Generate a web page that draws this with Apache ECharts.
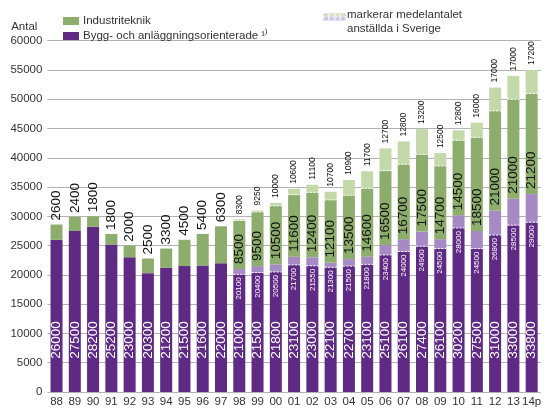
<!DOCTYPE html>
<html><head><meta charset="utf-8">
<script src="https://cdn.jsdelivr.net/npm/echarts@6/dist/echarts.min.js"></script>
<style>html,body{margin:0;padding:0;background:#fff}#c{width:545px;height:408px}</style>
</head><body><div id="c"></div>
<script>
const years = ['88','89','90','91','92','93','94','95','96','97','98','99','00','01','02','03','04','05','06','07','08','09','10','11','12','13','14p'];
const bygg = [26000,27500,28200,25200,23000,20300,21200,21500,21600,22000,21000,21500,21800,23100,23000,22100,22700,23100,25100,26100,27400,26100,30200,27500,31000,33000,33800];
const industri = [2600,2400,1800,1800,2000,2500,3300,4500,5400,6300,8500,9500,10500,11600,12400,12100,13500,14600,16500,16700,17500,14700,14500,18500,21000,21000,21200];
const byggSverige = [null,null,null,null,null,null,null,null,null,null,20100,20400,20500,21700,21550,21300,21500,21800,23400,24000,24900,24500,28000,24500,26800,28500,29000];
const industriSverige = [null,null,null,null,null,null,null,null,null,null,8300,9250,10000,10600,11100,10700,10900,11700,12700,12800,13200,12500,12800,16000,17000,17000,17200];

const NAME_IND = 'Industriteknik';
const NAME_BYGG = 'Bygg- och anläggningsorienterade \u00b9\u207e';
const FONT = '"Liberation Sans", Arial, Helvetica, sans-serif';
const C_PURPLE = '#5e2a84', C_PURPLE_L = '#a68ac4', C_GREEN = '#8cad6b', C_GREEN_L = '#c4d9aa';
const BW = 12;
const hasSw = i => byggSverige[i] != null;

const darkPurple = years.map((y, i) => hasSw(i) ? byggSverige[i] : bygg[i]);
const lightPurple = years.map((y, i) => ({
  value: hasSw(i) ? bygg[i] - byggSverige[i] : 0,
  label: { show: hasSw(i) }
}));
const darkGreen = years.map((y, i) => ({
  value: hasSw(i) ? industriSverige[i] : industri[i],
  label: hasSw(i) ? { position: 'insideBottom', distance: 5 } : { position: 'top', distance: 4 }
}));
const lightGreen = years.map((y, i) => ({
  value: hasSw(i) ? industri[i] - industriSverige[i] : 0,
  label: { show: hasSw(i) }
}));
const dashData = [];
years.forEach((y, i) => { if (hasSw(i)) dashData.push([i, byggSverige[i], bygg[i] + industriSverige[i]]); });

const chart = echarts.init(document.getElementById('c'), null, { renderer: 'canvas' });
chart.setOption({
  animation: false,
  backgroundColor: '#fff',
  textStyle: { fontFamily: FONT },
  grid: { left: 47.4, right: 4.2, top: 40.7, bottom: 14.7, containLabel: false },
  legend: {
    data: [NAME_IND, NAME_BYGG],
    orient: 'vertical',
    left: 58, top: 9,
    itemWidth: 16, itemHeight: 8, itemGap: 1,
    icon: 'rect',
    textStyle: { fontFamily: FONT, fontSize: 11.5, color: '#333', lineHeight: 14, padding: [0, 0, 0, -1] },
    selectedMode: false
  },
  graphic: [
    { type: 'group', left: 321, top: 11, children: [
      { type: 'rect', shape: { x: 0, y: 0, width: 22, height: 7 }, style: { fill: '#cfc5e4' } },
      { type: 'rect', shape: { x: 0, y: 0, width: 22, height: 3 }, style: { fill: '#d6e2c6' } },
      { type: 'line', shape: { x1: 0, y1: 3.5, x2: 22, y2: 3.5 }, style: { stroke: '#fff', lineWidth: 1, lineDash: [2, 2] } },
      { type: 'line', shape: { x1: 5.5, y1: 0, x2: 5.5, y2: 7 }, style: { stroke: '#fff', lineWidth: 1 } },
      { type: 'line', shape: { x1: 11.5, y1: 0, x2: 11.5, y2: 7 }, style: { stroke: '#fff', lineWidth: 1 } },
      { type: 'line', shape: { x1: 16.5, y1: 0, x2: 16.5, y2: 7 }, style: { stroke: '#fff', lineWidth: 1 } }
    ]},
    { type: 'text', left: 347, top: 8, style: { text: 'markerar medelantalet\nanställda i Sverige', font: '11.5px ' + FONT, fill: '#333', lineHeight: 14 } }
  ],
  xAxis: {
    type: 'category', data: years,
    axisTick: { show: false }, axisLine: { show: false },
    axisLabel: { fontSize: 11.5, color: '#333', margin: 4, fontFamily: FONT, interval: 0 }
  },
  yAxis: {
    type: 'value', min: 0, max: 60000, interval: 5000,
    name: 'Antal', nameLocation: 'end', nameGap: 8,
    nameTextStyle: { fontSize: 11.5, color: '#333', align: 'right', padding: [0, 10, 0, 0], fontFamily: FONT },
    axisLine: { show: false }, axisTick: { show: false },
    axisLabel: { fontSize: 11.5, color: '#333', margin: 5, fontFamily: FONT, formatter: v => String(v) },
    splitLine: { lineStyle: { color: '#b3b3b3', width: 1 } }
  },
  series: [
    {
      name: NAME_BYGG, type: 'bar', stack: 's', barWidth: BW,
      itemStyle: { color: C_PURPLE },
      data: darkPurple,
      label: { show: true, position: 'insideBottom', distance: 52, rotate: 90, align: 'center', verticalAlign: 'middle',
        color: '#fff', fontSize: 13.5, fontFamily: FONT, formatter: p => String(bygg[p.dataIndex]) }
    },
    {
      name: 'byggExtra', type: 'bar', stack: 's', barWidth: BW,
      itemStyle: { color: C_PURPLE_L },
      data: lightPurple,
      label: { position: 'bottom', distance: 3, rotate: 90, align: 'right', verticalAlign: 'middle',
        color: '#fff', fontSize: 8, fontFamily: FONT, formatter: p => String(byggSverige[p.dataIndex]) }
    },
    {
      name: NAME_IND, type: 'bar', stack: 's', barWidth: BW,
      itemStyle: { color: C_GREEN },
      data: darkGreen,
      label: { show: true, rotate: 90, align: 'left', verticalAlign: 'middle',
        color: '#111', fontSize: 13.5, fontFamily: FONT, formatter: p => String(industri[p.dataIndex]) }
    },
    {
      name: 'indExtra', type: 'bar', stack: 's', barWidth: BW,
      itemStyle: { color: C_GREEN_L },
      data: lightGreen,
      label: { position: 'top', distance: 5, rotate: 90, align: 'left', verticalAlign: 'middle',
        color: '#111', fontSize: 8.5, fontFamily: FONT, formatter: p => String(industriSverige[p.dataIndex]) }
    },
    {
      name: 'dash', type: 'custom', z: 10, silent: true,
      encode: { x: 0, y: [1, 2] },
      data: dashData,
      renderItem: (params, api) => {
        const i = api.value(0);
        const a = api.coord([i, api.value(1)]);
        const b = api.coord([i, api.value(2)]);
        const st = { stroke: '#fff', lineWidth: 1, lineDash: [2, 1.5] };
        return { type: 'group', children: [
          { type: 'line', shape: { x1: a[0] - BW / 2, y1: a[1], x2: a[0] + BW / 2, y2: a[1] }, style: st },
          { type: 'line', shape: { x1: b[0] - BW / 2, y1: b[1], x2: b[0] + BW / 2, y2: b[1] }, style: st }
        ]};
      }
    }
  ]
});
</script></body></html>
